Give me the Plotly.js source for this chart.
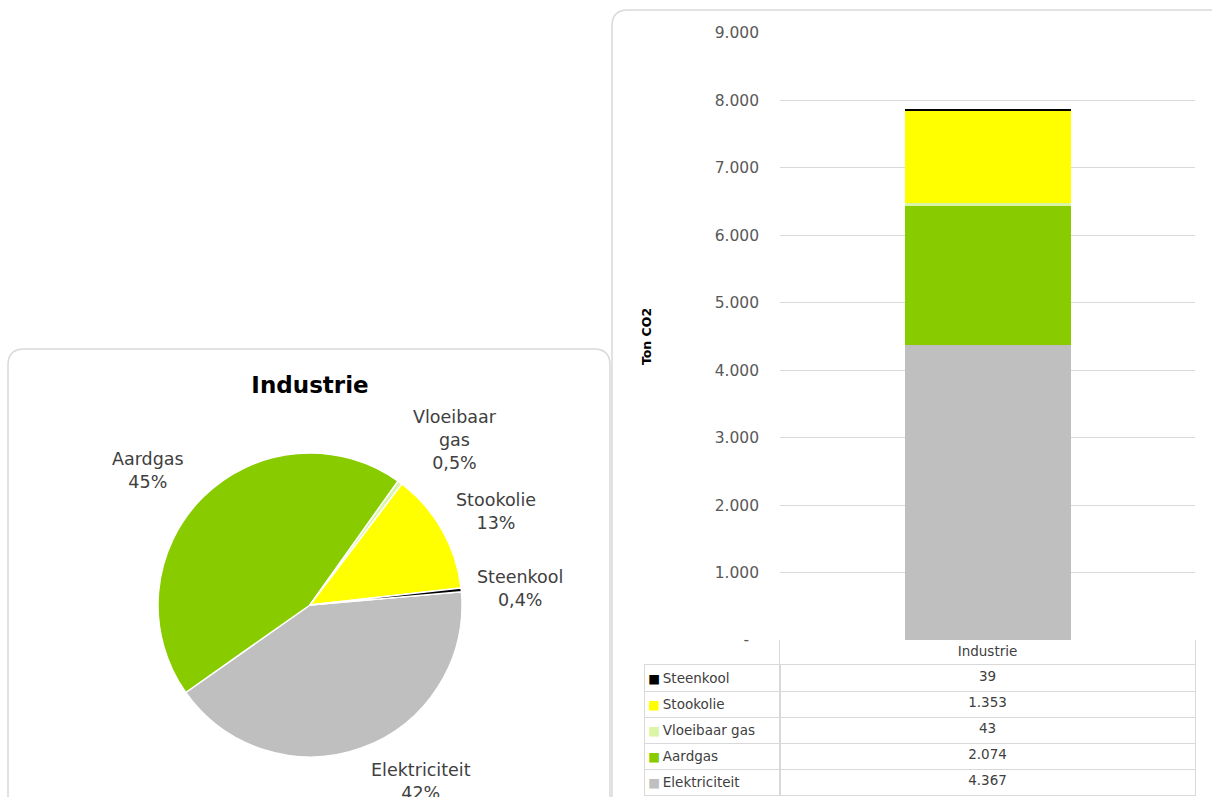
<!DOCTYPE html>
<html>
<head>
<meta charset="utf-8">
<script src="https://cdn.plot.ly/plotly-3.0.1.min.js"></script>
<style>
  html, body { margin: 0; padding: 0; background: #ffffff; }
  #chart { width: 1212px; height: 797px; }
</style>
</head>
<body>
<div id="chart"></div>
<script>
// ---------- DATA ----------
const categories = ['Elektriciteit', 'Aardgas', 'Vloeibaar gas', 'Stookolie', 'Steenkool'];
const co2Values = [4367, 2074, 43, 1353, 39];          // Ton CO2, sector Industrie
const piePercent = [42, 45, 0.5, 13, 0.4];             // pie shares (%)
const barCategory = ['Industrie'];
const yTickVals = [0, 1000, 2000, 3000, 4000, 5000, 6000, 7000, 8000, 9000];
const yTickText = ['-\u00a0\u00a0', '1.000', '2.000', '3.000', '4.000', '5.000', '6.000', '7.000', '8.000', '9.000'];
const colors = ['#bfbfbf', '#88cc00', '#d9f5a5', '#ffff00', '#000000'];

// ---------- HELPERS ----------
const W = 1212, H = 797;
const px = x => x / W;
const py = y => 1 - y / H;
function roundRectPath(x0, y0, x1, y1, r) {
  const P = (x, y) => px(x) + ',' + py(y);
  return 'M' + P(x0 + r, y0) + ' L' + P(x1 - r, y0) + ' Q' + P(x1, y0) + ' ' + P(x1, y0 + r) +
    ' L' + P(x1, y1 - r) + ' Q' + P(x1, y1) + ' ' + P(x1 - r, y1) +
    ' L' + P(x0 + r, y1) + ' Q' + P(x0, y1) + ' ' + P(x0, y1 - r) +
    ' L' + P(x0, y0 + r) + ' Q' + P(x0, y0) + ' ' + P(x0 + r, y0) + ' Z';
}
function fmtNL(v) {
  return String(v).replace(/\B(?=(\d{3})+(?!\d))/g, '.');
}
function fmtPct(v) {
  return String(v).replace('.', ',') + '%';
}

const FONT = 'DejaVu Sans, sans-serif';
const TXT = '#404040';
const GRID = '#d9d9d9';
const TABLE_FONT = { family: FONT, size: 13.5, color: TXT };

// ---------- TRACES ----------
const traces = [];

// Stacked bar
categories.forEach((c, i) => {
  traces.push({
    type: 'bar',
    name: c,
    x: barCategory,
    y: [co2Values[i]],
    marker: { color: colors[i], line: { width: 0 } },
    xaxis: 'x', yaxis: 'y',
    showlegend: false,
    hoverinfo: 'name+y'
  });
});

// Data table body: values column
traces.push({
  type: 'scatter',
  mode: 'text',
  x: categories.map(() => barCategory[0]),
  y: categories,
  text: co2Values.map(fmtNL),
  textposition: 'middle center',
  textfont: TABLE_FONT,
  xaxis: 'x3', yaxis: 'y2',
  showlegend: false,
  hoverinfo: 'skip'
});
// Data table header
traces.push({
  type: 'scatter',
  mode: 'text',
  x: barCategory,
  y: barCategory,
  text: barCategory,
  textposition: 'middle center',
  textfont: TABLE_FONT,
  xaxis: 'x3', yaxis: 'y3',
  showlegend: false,
  hoverinfo: 'skip'
});
// invisible trace to create the label-column subplot
traces.push({
  type: 'scatter', mode: 'none',
  x: [null], y: [categories[0]],
  xaxis: 'x2', yaxis: 'y2',
  showlegend: false, hoverinfo: 'skip'
});

// Pie
traces.push({
  type: 'pie',
  labels: categories,
  values: piePercent,
  sort: false,
  direction: 'clockwise',
  rotation: 85,
  textinfo: 'none',
  marker: { colors: colors, line: { color: '#ffffff', width: 1.5 } },
  domain: { x: [px(158), px(462)], y: [py(757), py(453)] },
  showlegend: false,
  hoverinfo: 'label+percent'
});

// ---------- LAYOUT ----------
const pieLabelPos = [[421, 781], [148, 470], [455, 440], [496, 511], [520, 588]];
const annotations = categories.map((c, i) => ({
  xref: 'paper', yref: 'paper',
  x: px(pieLabelPos[i][0]), y: py(pieLabelPos[i][1]),
  xanchor: 'center', yanchor: 'middle',
  text: c.replace(' ', '<br>') + '<br>' + fmtPct(piePercent[i]),
  showarrow: false,
  align: 'center',
  font: { family: FONT, size: 17.5, color: TXT }
}));

const legendKeyText = categories.map((c, i) =>
  '<span style="color:' + colors[i] + ';font-size:12.5px">■</span>\u2009' + c);

const layout = {
  width: W, height: H,
  margin: { l: 0, r: 0, t: 0, b: 0 },
  paper_bgcolor: '#ffffff',
  plot_bgcolor: 'rgba(0,0,0,0)',
  separators: ',.',
  barmode: 'stack',
  bargap: 0.6,
  font: { family: FONT, color: TXT },
  title: {
    text: '<b>Industrie</b>',
    x: px(310), y: py(385), xanchor: 'center', yanchor: 'middle',
    xref: 'paper', yref: 'paper',
    font: { family: FONT, size: 23, color: '#000000' }
  },
  // bar chart axes
  xaxis: {
    domain: [px(780), px(1195)],
    anchor: 'y',
    showticklabels: false,
    showgrid: false,
    zeroline: false,
    showline: false,
    fixedrange: true
  },
  yaxis: {
    domain: [py(640), py(33)],
    anchor: 'x',
    range: [0, 9000],
    tickvals: yTickVals,
    ticktext: yTickText,
    ticklabelstandoff: 20,
    tickfont: { family: FONT, size: 15.5, color: '#595959' },
    showgrid: true,
    gridcolor: GRID,
    gridwidth: 1,
    zeroline: false,
    showline: false,
    fixedrange: true,
    title: {
      text: '<b>Ton CO2</b>',
      font: { family: FONT, size: 12.5, color: '#000000' },
      standoff: 60
    }
  },
  // data table: label column
  xaxis2: {
    domain: [px(645), px(780)],
    anchor: 'y2',
    range: [0, 1],
    showticklabels: false,
    showgrid: false,
    zeroline: false,
    showline: true,
    mirror: true,
    linecolor: GRID,
    linewidth: 1,
    fixedrange: true
  },
  // data table: value column
  xaxis3: {
    domain: [px(780), px(1195)],
    anchor: 'y2',
    type: 'category',
    range: [-0.5, 0.5],
    showticklabels: false,
    showgrid: false,
    zeroline: false,
    showline: true,
    mirror: true,
    linecolor: GRID,
    linewidth: 1,
    fixedrange: true
  },
  // data table rows
  yaxis2: {
    domain: [py(795), py(665)],
    anchor: 'x2',
    type: 'category',
    categoryorder: 'array',
    categoryarray: categories,
    range: [-0.5, categories.length - 0.5],
    tickmode: 'array',
    tickvals: categories,
    ticktext: legendKeyText,
    tickson: 'boundaries',
    ticks: '',
    ticklabelposition: 'inside',
    ticklabeloverflow: 'allow',
    ticklabelstandoff: 3,
    tickfont: TABLE_FONT,
    showgrid: true,
    gridcolor: GRID,
    gridwidth: 1,
    zeroline: false,
    showline: true,
    mirror: 'all',
    linecolor: GRID,
    linewidth: 1,
    fixedrange: true
  },
  // data table header row
  yaxis3: {
    domain: [py(665), py(640)],
    anchor: 'x3',
    type: 'category',
    range: [-0.5, 0.5],
    showticklabels: false,
    showgrid: false,
    zeroline: false,
    showline: true,
    mirror: true,
    linecolor: GRID,
    linewidth: 1,
    fixedrange: true
  },
  annotations: annotations,
  shapes: [
    { type: 'path', xref: 'paper', yref: 'paper', path: roundRectPath(8, 349, 610, 815, 16),
      line: { color: GRID, width: 1.5 }, fillcolor: 'rgba(0,0,0,0)', layer: 'below' },
    { type: 'path', xref: 'paper', yref: 'paper', path: roundRectPath(612, 10, 1230, 815, 16),
      line: { color: GRID, width: 1.5 }, fillcolor: 'rgba(0,0,0,0)', layer: 'below' }
  ]
};

Plotly.newPlot('chart', traces, layout, { displayModeBar: false, staticPlot: true });
</script>
</body>
</html>
